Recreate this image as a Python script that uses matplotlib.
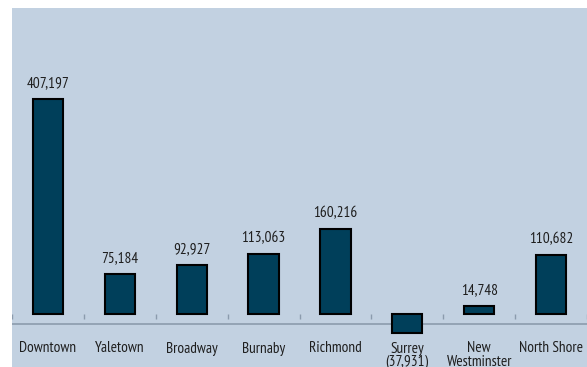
import matplotlib.pyplot as plt
import numpy as np

# Net change by area
areas = ["Downtown", "Yaletown", "Broadway", "Burnaby", "Richmond",
         "Surrey\n(37,931)", "New\nWestminster", "North Shore"]
values = [407197, 75184, 92927, 113063, 160216, -37931, 14748, 110682]
value_labels = ["407,197", "75,184", "92,927", "113,063", "160,216",
                None, "14,748", "110,682"]

BG = "#c2d1e1"
BAR = "#003f5a"
GREY = "#8b9bad"
TEXT = "#1e1e1e"

plt.rcParams["font.family"] = ["PT Sans Narrow", "DejaVu Sans"]

W, H = 587, 367
fig = plt.figure(figsize=(W / 100, H / 100), dpi=100)
ax = fig.add_axes([12 / W, 0, (W - 12) / W, (H - 8) / H])
ax.set_facecolor(BG)

# value scale: about 1897 per pixel, zero line 305.5 px below panel top
per_px = 1897
ax.set_ylim(-(H - 313.5) * per_px, (313.5 - 8) * per_px)
ax.set_xlim(-0.5, len(areas) - 0.5)

x = np.arange(len(areas))
ax.bar(x, values, width=0.42, color=BAR, edgecolor="black", linewidth=1.5, zorder=3)

# short separators between categories and the grey base line
ax.vlines(np.arange(-0.5, len(areas)), -5 * per_px, 0, color=GREY, lw=1, zorder=2)
ax.axhline(-10 * per_px, color=GREY, lw=1.2, zorder=2)

for xi, v, lab in zip(x, values, value_labels):
    if lab is None:
        continue
    ax.annotate(lab, (xi, v), xytext=(0, 8.5), textcoords="offset points",
                ha="center", va="baseline", fontsize=11, color=TEXT)

for xi, name in zip(x, areas):
    ax.text(xi, -28 * per_px, name, ha="center", va="top", fontsize=11,
            color=TEXT, linespacing=0.92)

for s in ax.spines.values():
    s.set_visible(False)
ax.set_xticks([])
ax.set_yticks([])

fig.savefig("out.png", dpi=100, facecolor="white")
